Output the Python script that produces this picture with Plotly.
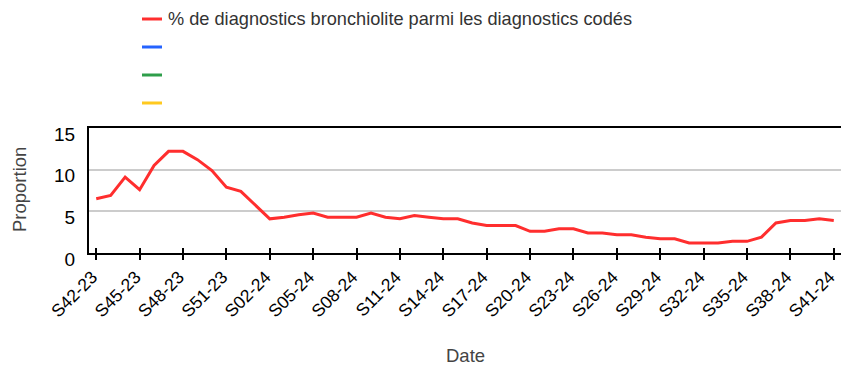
import plotly.graph_objects as go

# Weekly share of bronchiolitis among coded diagnoses, S42-23 .. S41-24
weeks = [f"S{w:02d}-23" for w in range(42, 53)] + [f"S{w:02d}-24" for w in range(1, 42)]
proportion = [
    6.5, 6.9, 9.1, 7.6, 10.5, 12.2, 12.2, 11.2, 9.9, 7.9, 7.4,
    5.7, 4.1, 4.3, 4.6, 4.8, 4.3, 4.3, 4.3, 4.8, 4.3, 4.1, 4.5,
    4.3, 4.1, 4.1, 3.6, 3.3, 3.3, 3.3, 2.6, 2.6, 2.9, 2.9, 2.4,
    2.4, 2.2, 2.2, 1.9, 1.7, 1.7, 1.2, 1.2, 1.2, 1.4, 1.4, 1.9,
    3.6, 3.9, 3.9, 4.1, 3.9,
]
tick_weeks = weeks[::3]
y_ticks = [0, 5, 10, 15]

series_name = "% de diagnostics bronchiolite parmi les diagnostics codés"
legend_colors = ["#ff2e2e", "#2563ff", "#2e9e4a", "#ffc91f"]
legend_labels = [series_name, "", "", ""]

W, H = 842, 367
ML, MR, MT, MB = 89, 1, 128, 114
PW, PH = W - ML - MR, H - MT - MB
FONT = "Liberation Sans, Arial, sans-serif"


def px(x):
    return (x - ML) / PW


def py(y):
    return (H - MB - y) / PH


fig = go.Figure()
fig.add_trace(go.Scatter(
    x=weeks, y=proportion, mode="lines", name=series_name,
    line=dict(color=legend_colors[0], width=3), showlegend=False,
))

# inside half of the crossing tick marks
fig.add_trace(go.Scatter(x=weeks, y=[None] * len(weeks), xaxis="x2",
                         showlegend=False, hoverinfo="skip"))

shapes = []
annotations = []
for i, (col, lab) in enumerate(zip(legend_colors, legend_labels)):
    yc = 19 + i * 28
    shapes.append(dict(type="line", xref="paper", yref="paper",
                       x0=px(142), x1=px(162), y0=py(yc), y1=py(yc),
                       line=dict(color=col, width=3)))
    if lab:
        annotations.append(dict(text=lab, xref="paper", yref="paper",
                                x=px(166), y=py(yc), xanchor="left", yanchor="middle",
                                showarrow=False,
                                font=dict(family=FONT, size=18.2, color="#333333")))

annotations.append(dict(text="Proportion", xref="paper", yref="paper",
                        x=px(19), y=py(190), textangle=-90, showarrow=False,
                        xanchor="center", yanchor="middle",
                        font=dict(family=FONT, size=18.5, color="#444444")))
annotations.append(dict(text="Date", xref="paper", yref="paper",
                        x=px(465), y=py(355), showarrow=False,
                        xanchor="center", yanchor="middle",
                        font=dict(family=FONT, size=18.5, color="#444444")))

axis_x = dict(type="category", range=[-0.5, len(weeks) - 0.5],
              tickmode="array", tickvals=tick_weeks, ticktext=tick_weeks)

fig.update_layout(
    width=W, height=H,
    margin=dict(l=ML, r=MR, t=MT, b=MB),
    paper_bgcolor="white", plot_bgcolor="white",
    showlegend=False,
    xaxis=dict(**axis_x, showgrid=False, zeroline=False,
               showline=True, linecolor="black", linewidth=2, mirror=True,
               ticks="outside", ticklen=5, tickwidth=2, tickcolor="black",
               tickangle=-45, ticklabelshift=-4,
               tickfont=dict(family=FONT, size=17.5, color="black")),
    xaxis2=dict(**axis_x, overlaying="x", side="bottom", showgrid=False,
                zeroline=False, showline=False, showticklabels=False,
                ticks="inside", ticklen=5, tickwidth=2, tickcolor="black"),
    yaxis=dict(range=[0, 15], tickmode="array", tickvals=y_ticks,
               showgrid=True, gridcolor="#cccccc", gridwidth=2, zeroline=False,
               showline=True, linecolor="black", linewidth=2, ticks="",
               ticklabelshift=6, ticklabelstandoff=8,
               tickfont=dict(family=FONT, size=19, color="black")),
    shapes=shapes,
    annotations=annotations,
)

fig.write_html("out.html")
